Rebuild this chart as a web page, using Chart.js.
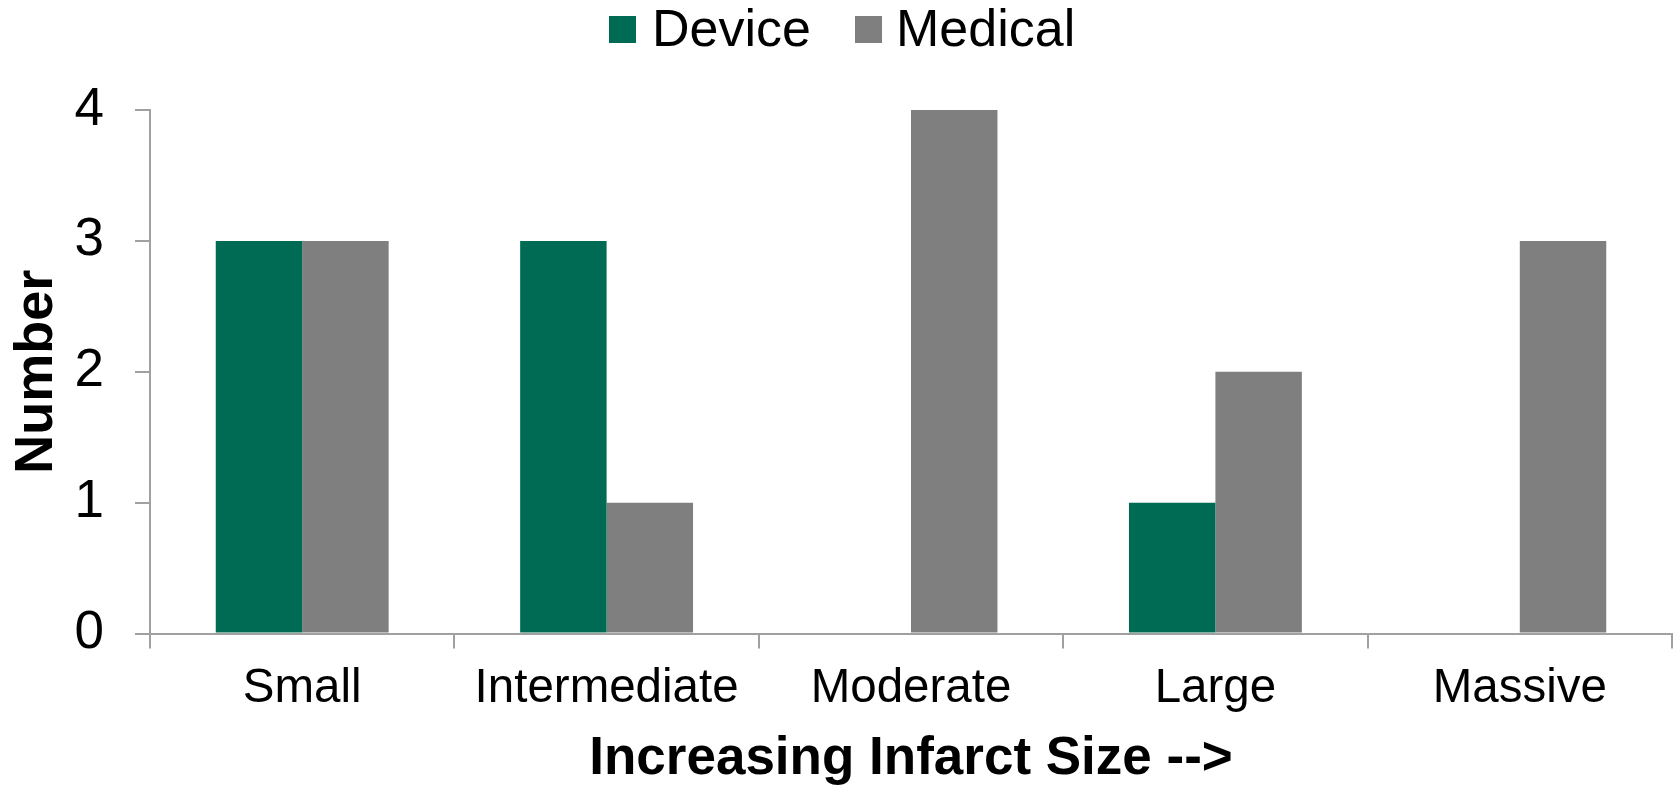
<!DOCTYPE html>
<html>
<head>
<meta charset="utf-8">
<script src="https://cdn.jsdelivr.net/npm/chart.js@4/dist/chart.umd.min.js"></script>
<style>
  html, body { margin: 0; padding: 0; background: #ffffff; }
  #wrap { position: relative; width: 1675px; height: 785px; }
  #chart { position: absolute; left: 0; top: 0; }
  .lg-box { position: absolute; width: 27px; height: 27px; }
  .lg-text { position: absolute; font-family: "Liberation Sans", Arial, sans-serif; font-size: 52px; line-height: 52px; color: #000; white-space: nowrap; }
</style>
</head>
<body>
<div id="wrap">
  <canvas id="chart" width="1675" height="785"></canvas>
  <div id="legend"></div>
</div>
<script>
// Infarct size categories and patient counts per treatment arm
const categories = ['Small', 'Intermediate', 'Moderate', 'Large', 'Massive'];
const deviceCounts = [3, 3, 0, 1, 0];
const medicalCounts = [3, 1, 4, 2, 3];
const seriesNames = ['Device', 'Medical'];
const yTicks = [0, 1, 2, 3, 4];

const deviceColor = '#006B54';
const medicalColor = '#7F7F7F';
const axisColor = '#A0A0A0';
const fontFamily = '"Liberation Sans", Arial, sans-serif';

// Legend laid out as page text above the plot
const legendItems = [
  { name: seriesNames[0], color: deviceColor, boxX: 609, textX: 652 },
  { name: seriesNames[1], color: medicalColor, boxX: 855, textX: 896 }
];
const legendEl = document.getElementById('legend');
legendItems.forEach(item => {
  const box = document.createElement('div');
  box.className = 'lg-box';
  box.style.left = item.boxX + 'px';
  box.style.top = '16px';
  box.style.background = item.color;
  legendEl.appendChild(box);
  const txt = document.createElement('div');
  txt.className = 'lg-text';
  txt.style.left = item.textX + 'px';
  txt.style.top = '2px';
  txt.textContent = item.name;
  legendEl.appendChild(txt);
});

new Chart(document.getElementById('chart'), {
  type: 'bar',
  data: {
    labels: categories,
    datasets: [
      { label: seriesNames[0], data: deviceCounts, backgroundColor: deviceColor, borderWidth: 0 },
      { label: seriesNames[1], data: medicalCounts, backgroundColor: medicalColor, borderWidth: 0 }
    ]
  },
  options: {
    responsive: false,
    animation: false,
    devicePixelRatio: 1,
    categoryPercentage: 0.568,
    barPercentage: 1.0,
    layout: { padding: { top: 110, right: 3, left: 0, bottom: 0 } },
    plugins: {
      legend: { display: false },
      tooltip: { enabled: false }
    },
    scales: {
      x: {
        grid: { display: true, drawOnChartArea: false, drawTicks: true, tickLength: 15, color: axisColor, lineWidth: 2, offset: true },
        border: { display: true, color: axisColor, width: 2 },
        ticks: { color: '#000', padding: 12, font: { family: fontFamily, size: 47.5 } },
        title: {
          display: true,
          text: 'Increasing Infarct Size -->',
          color: '#000',
          font: { family: fontFamily, size: 53, weight: 'bold', lineHeight: 0.96 },
          padding: { top: 0, bottom: 0 }
        },
        afterFit(scale) { scale.height = 151.5; }
      },
      y: {
        min: 0,
        max: 4,
        afterBuildTicks(scale) { scale.ticks = yTicks.map(v => ({ value: v })); },
        grid: { display: true, drawOnChartArea: false, drawTicks: true, tickLength: 15, color: axisColor, lineWidth: 2 },
        border: { display: true, color: axisColor, width: 2 },
        ticks: { color: '#000', padding: 31, font: { family: fontFamily, size: 53 } },
        title: {
          display: true,
          text: 'Number',
          color: '#000',
          font: { family: fontFamily, size: 54, weight: 'bold', lineHeight: 1 },
          padding: { top: 10, bottom: 0 }
        },
        afterFit(scale) { scale.width = 150; }
      }
    }
  }
});
</script>
</body>
</html>
